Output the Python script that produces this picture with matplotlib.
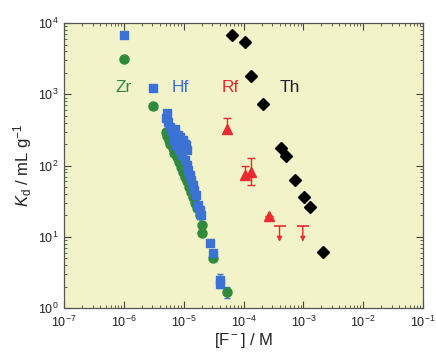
import matplotlib
matplotlib.use("Agg")
import matplotlib.pyplot as plt
from matplotlib.ticker import LogLocator, NullFormatter

plt.rcParams['font.family'] = ['Liberation Sans', 'DejaVu Sans']
plt.rcParams['mathtext.fontset'] = 'custom'
plt.rcParams['mathtext.rm'] = 'Liberation Sans'
plt.rcParams['mathtext.it'] = 'Liberation Sans:italic'
plt.rcParams['mathtext.bf'] = 'Liberation Sans:bold'

# ---- data ----
hf_x = [1.0e-6, 3.1e-6, 5.3e-6, 5.1e-6, 5.5e-6, 5.9e-6, 6.4e-6, 7.2e-6, 8.1e-6,
        8.7e-6, 9.8e-6, 1.05e-5, 1.1e-5, 1.15e-5, 6.8e-6, 7.5e-6, 8.5e-6, 9.5e-6,
        1.05e-5, 1.15e-5, 1.2e-5, 1.28e-5, 1.35e-5, 1.44e-5, 1.5e-5, 1.61e-5,
        1.75e-5, 1.88e-5, 1.95e-5, 2.76e-5, 3.1e-5, 4.06e-5, 4.1e-5]
hf_y = [6800, 1230, 545, 464, 408, 347, 305, 330, 268,
        250, 228, 200, 194, 165, 228, 194, 165, 140,
        119, 102, 86, 74, 63, 53, 45, 39,
        28, 24, 20, 8.2, 5.9, 2.5, 2.2]

zr_x = [1.0e-6, 3.1e-6, 5.0e-6, 5.3e-6, 5.6e-6, 6.0e-6, 6.5e-6, 7.0e-6, 7.6e-6,
        8.3e-6, 9.0e-6, 9.8e-6, 1.06e-5, 1.15e-5, 1.25e-5, 1.35e-5, 1.45e-5,
        1.55e-5, 1.7e-5, 1.88e-5, 2.0e-5, 2.0e-5, 3.1e-5, 5.3e-5]
zr_y = [3100, 690, 300, 260, 228, 200, 175, 150, 130,
        112, 96, 82, 70, 60, 50, 42, 36,
        30, 25, 20, 14.6, 11.3, 5.0, 1.7]

th_x = [6.4e-5, 1.07e-4, 1.35e-4, 2.1e-4, 4.2e-4, 5.1e-4, 7.2e-4, 1.02e-3, 1.3e-3, 2.1e-3]
th_y = [6900, 5500, 1800, 740, 175, 135, 63, 36, 26, 6.1]

rf_x = [5.2e-5, 1.07e-4, 1.36e-4, 2.7e-4]
rf_y = [330, 74, 80, 19.6]
rf_lo = [283, 66, 53, 19.6]
rf_hi = [460, 100, 126, 19.6]

rf_lim_x = [4.0e-4, 9.8e-4]
rf_lim_top = [14, 14]
rf_lim_bot = [8.5, 8.5]

# error bars on a few Zr/Hf points
err_x = [5.3e-6, 4.06e-5, 5.3e-5]
err_y = [545, 2.5, 1.7]
err_lo = [500, 1.9, 1.4]
err_hi = [610, 3.0, 2.0]

labels = ["Zr", "Hf", "Rf", "Th"]
label_x = [1.0e-6, 8.7e-6, 6.0e-5, 6.0e-4]
label_y = [1230, 1230, 1230, 1230]

# ---- colours ----
c_zr = '#2f8a3c'
c_hf = '#3b72d4'
c_rf = '#ec2a2f'
c_th = '#000000'
label_cols = [c_zr, c_hf, c_rf, '#222222']

fig = plt.figure(figsize=(4.36, 3.56), dpi=100)
ax = fig.add_axes([0.147, 0.135, 0.823, 0.800])
ax.set_facecolor('#f2f3c8')

ax.set_xscale('log')
ax.set_yscale('log')
ax.set_xlim(1e-7, 1e-1)
ax.set_ylim(1, 1e4)

ax.plot(zr_x, zr_y, 'o', color=c_zr, ms=6.5, mec=c_zr, zorder=3)
ax.plot(hf_x, hf_y, 's', color=c_hf, ms=6.3, mec=c_hf, zorder=4)

ax.errorbar(err_x, err_y,
            yerr=[[y - l for y, l in zip(err_y, err_lo)], [h - y for y, h in zip(err_y, err_hi)]],
            fmt='none', ecolor=c_hf, elinewidth=1, capsize=2, zorder=2)

ax.errorbar(rf_x, rf_y,
            yerr=[[y - l for y, l in zip(rf_y, rf_lo)], [h - y for y, h in zip(rf_y, rf_hi)]],
            fmt='^', color=c_rf, ms=6.5, ecolor=c_rf, elinewidth=1, capsize=3, zorder=5)

for x, t, b in zip(rf_lim_x, rf_lim_top, rf_lim_bot):
    ax.annotate('', xy=(x, b), xytext=(x, t),
                arrowprops=dict(arrowstyle='-|>', color=c_rf, lw=1, mutation_scale=7,
                                shrinkA=0, shrinkB=0), zorder=5)
ax.plot(rf_lim_x, rf_lim_top, '_', color=c_rf, ms=8, mew=1.2, zorder=5)

ax.plot(th_x, th_y, 'D', color=c_th, ms=5.8, zorder=5)

for t, x, y, c in zip(labels, label_x, label_y, label_cols):
    ax.text(x, y, t, color=c, fontsize=12.5, ha='center', va='center')

ax.xaxis.set_major_locator(LogLocator(base=10, numticks=20))
ax.yaxis.set_major_locator(LogLocator(base=10, numticks=20))
ax.xaxis.set_minor_locator(LogLocator(base=10, subs=range(2, 10), numticks=20))
ax.yaxis.set_minor_locator(LogLocator(base=10, subs=range(2, 10), numticks=20))
ax.xaxis.set_minor_formatter(NullFormatter())
ax.yaxis.set_minor_formatter(NullFormatter())

ax.tick_params(which='both', direction='in', top=True, right=True, colors='#444444',
               labelcolor='#222222', labelsize=9)
ax.tick_params(which='major', length=5, width=0.8)
ax.tick_params(which='minor', length=2.5, width=0.6)
ax.tick_params(axis='x', pad=5)
ax.tick_params(axis='y', pad=4)
for s in ax.spines.values():
    s.set_color('#555555')
    s.set_linewidth(0.9)

ax.set_xlabel('[F$^-$] / M', fontsize=12, color='#222222', labelpad=1)
ax.set_ylabel('$K_{\\rm d}$ / mL g$^{-1}$', fontsize=12, color='#222222', labelpad=3)

fig.savefig('out.png', dpi=100, facecolor='white')
